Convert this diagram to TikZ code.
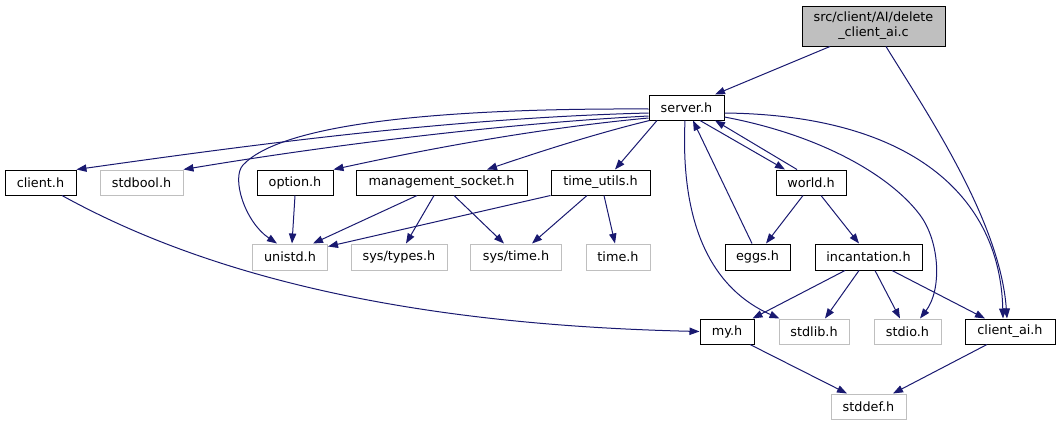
\documentclass[tikz,border=0pt]{standalone}
\usepackage{fontspec}
\setmainfont{DejaVu Sans}
\usetikzlibrary{arrows.meta,calc}
\definecolor{edgec}{HTML}{191970}
\definecolor{grayb}{HTML}{BFBFBF}
\begin{document}
\begin{tikzpicture}[x=0.75pt,y=-0.75pt,
  hbox/.style={draw=black,line width=0.75pt,minimum height=18.75pt,inner sep=0pt,font=\fontsize{9.6}{11.25}\selectfont},
  sbox/.style={hbox,draw=grayb},
  dep/.style={draw=edgec,line width=0.75pt,-{Triangle[length=7.5pt,width=5.5pt]}}]
\useasboundingbox (0,0) rectangle (1060,425);
% nodes
\node[hbox,fill=grayb,minimum width=107.25pt,minimum height=30pt,align=center] (root) at (873.5,26) {src/client/AI/delete\\\_client\_ai.c};
\node[hbox,minimum width=56.25pt] (server) at (686.5,107.5) {server.h};
\node[hbox,minimum width=53.25pt] (client) at (40.5,182.5) {client.h};
\node[sbox,minimum width=62.25pt] (stdbool) at (141.5,182.5) {stdbool.h};
\node[hbox,minimum width=57pt] (option) at (295,182.5) {option.h};
\node[hbox,minimum width=128.25pt] (mgmt) at (441.5,182.5) {management\_socket.h};
\node[hbox,minimum width=74.25pt] (timeutils) at (600.5,182.5) {time\_utils.h};
\node[hbox,minimum width=52.5pt] (world) at (811,182.5) {world.h};
\node[sbox,minimum width=56.25pt,minimum height=19.5pt] (unistd) at (290,257) {unistd.h};
\node[sbox,minimum width=72pt,minimum height=19.5pt] (systypes) at (399,257) {sys/types.h};
\node[sbox,minimum width=68.25pt,minimum height=19.5pt] (systime) at (516,257) {sys/time.h};
\node[sbox,minimum width=48pt,minimum height=19.5pt] (timeh) at (618,257) {time.h};
\node[hbox,minimum width=48.75pt,minimum height=19.5pt] (eggs) at (757.5,257) {eggs.h};
\node[hbox,minimum width=80.25pt,minimum height=19.5pt] (incant) at (868.5,257) {incantation.h};
\node[hbox,minimum width=40.5pt] (my) at (727,331.5) {my.h};
\node[sbox,minimum width=52.5pt] (stdlib) at (814,331.5) {stdlib.h};
\node[sbox,minimum width=50.25pt] (stdio) at (907.5,331.5) {stdio.h};
\node[hbox,minimum width=67.5pt] (clientai) at (1010,331.5) {client\_ai.h};
\node[sbox,minimum width=56.25pt] (stddef) at (868.5,406.5) {stddef.h};
% edges
\draw[dep] ($(root.south)+(-43.5,0)$) -- ($(server.north)+(28.5,0)$);
\draw[dep] ($(root.south)+(12.5,0)$) .. controls (925,110) and (1000,220) .. ($(clientai.north)+(-3,0)$);
\draw[dep] ($(server.west)+(0,5.5)$) .. controls (450,118) and (250,145) .. (client.north east);
\draw[dep] ($(server.west)+(0,8.5)$) .. controls (480,125) and (300,150) .. (stdbool.north east);
\coordinate (bend) at (243,165);
\draw[dep] ($(server.west)+(0,1.5)$) .. controls (430,108) and (280,125) .. (bend) .. controls (231,178) and (245,222) .. ($(unistd.north)+(-13,0)$);
\draw[dep] ($(server.west)+(0,10.5)$) .. controls (520,130) and (400,155) .. (option.north east);
\draw[dep] ($(server.south west)+(1,0)$) .. controls (590,135) and (530,155) .. ($(mgmt.north)+(45.5,0)$);
\draw[dep] ($(server.south)+(-29.5,0)$) -- ($(timeutils.north)+(14.5,0)$);
\draw[dep] ($(server.south)+(-1.5,0)$) .. controls (680,230) and (715,290) .. ($(stdlib.north west)+(1,0)$);
\draw[dep] ($(server.south)+(13.5,0)$) -- ($(world.north)+(-26,0)$);
\draw[dep] ($(world.north)+(-14,0)$) -- ($(server.south)+(28.5,0)$);
\draw[dep] ($(eggs.north)+(-5.5,0)$) -- ($(server.south)+(6.5,0)$);
\coordinate (bendb) at (920,215);
\draw[dep] ($(server.east)+(0,9.5)$) .. controls (820,135) and (890,175) .. (bendb) .. controls (940,242) and (942,290) .. ($(stdio.north)+(12.5,0)$);
\draw[dep] ($(server.east)+(0,5.5)$) .. controls (910,115) and (1000,195) .. ($(clientai.north)+(-7,0)$);
\draw[dep] (option.south) -- ($(unistd.north)+(2,0)$);
\draw[dep] ($(mgmt.south)+(-24.5,0)$) -- ($(unistd.north)+(23,0)$);
\draw[dep] ($(mgmt.south)+(-7.5,0)$) -- ($(systypes.north)+(7,0)$);
\draw[dep] ($(mgmt.south)+(12.5,0)$) -- ($(systime.north)+(-12,0)$);
\draw[dep] (timeutils.south west) -- ($(unistd.north east)+(0,3)$);
\draw[dep] ($(timeutils.south)+(-13.5,0)$) -- ($(systime.north)+(16,0)$);
\draw[dep] ($(timeutils.south)+(3.5,0)$) -- ($(timeh.north)+(-3,0)$);
\draw[dep] ($(world.south)+(-8,0)$) -- ($(eggs.north)+(8.5,0)$);
\draw[dep] ($(world.south)+(10,0)$) -- ($(incant.north)+(-9.5,0)$);
\draw[dep] ($(client.south)+(21.5,0)$) .. controls (215,280) and (420,325) .. (my.west);
\draw[dep] ($(incant.south)+(-23.5,0)$) -- ($(my.north east)+(-2,0)$);
\draw[dep] ($(incant.south)+(-9.5,0)$) -- ($(stdlib.north)+(11,0)$);
\draw[dep] ($(incant.south)+(6.5,0)$) -- ($(stdio.north)+(-7.5,0)$);
\draw[dep] ($(incant.south)+(23.5,0)$) -- ($(clientai.north)+(-25,0)$);
\draw[dep] ($(my.south)+(23,0)$) -- ($(stddef.north)+(-21.5,0)$);
\draw[dep] ($(clientai.south)+(-23,0)$) -- ($(stddef.north)+(24.5,0)$);
\end{tikzpicture}
\end{document}
